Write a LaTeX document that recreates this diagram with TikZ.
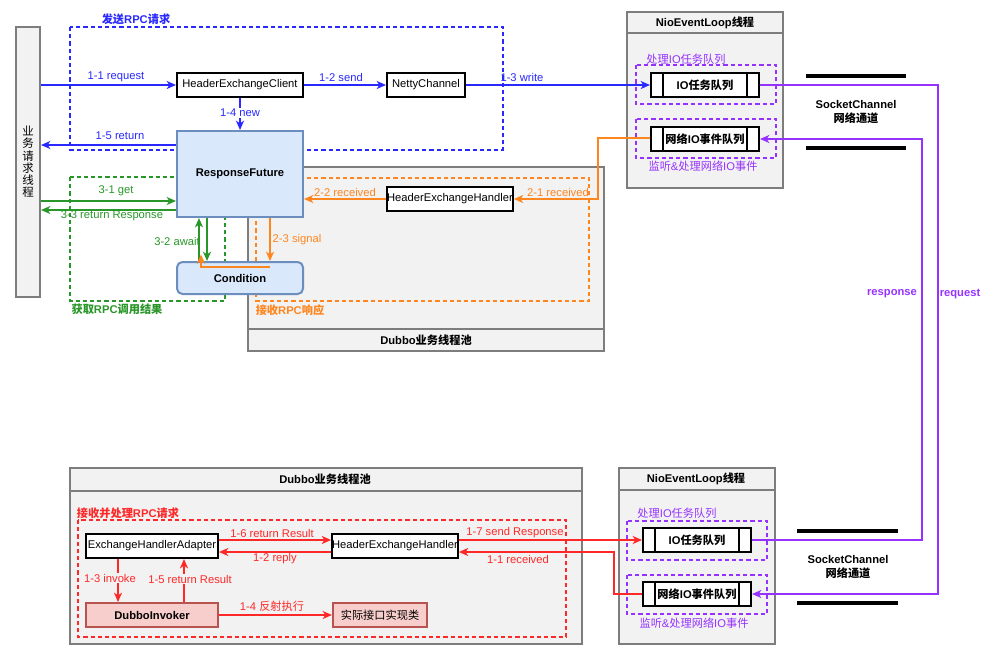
\documentclass[tikz,border=0pt]{standalone}
\usepackage{fontspec}
\setmainfont{Liberation Sans}
\newfontfamily\cjk{Noto Sans CJK SC}
\usetikzlibrary{arrows.meta,calc}
\definecolor{cblue}{RGB}{40,40,255}
\definecolor{cgreen}{RGB}{40,150,40}
\definecolor{corange}{RGB}{255,133,30}
\definecolor{cred}{RGB}{255,40,40}
\definecolor{cpurple}{RGB}{150,50,255}
\definecolor{cgrayfill}{RGB}{242,242,242}
\definecolor{cgrayline}{RGB}{125,125,125}
\definecolor{cbluefill}{RGB}{218,232,252}
\definecolor{cblueline}{RGB}{108,142,191}
\definecolor{credfill}{RGB}{248,206,204}
\definecolor{credline}{RGB}{184,84,80}
\newcommand\myfs{\fontsize{8.4}{10}\selectfont}
\begin{document}
\begin{tikzpicture}[x=0.75pt,y=-0.75pt,
  every node/.style={font=\myfs, inner sep=1pt},
  wh/.style 2 args={minimum width=#1*0.75pt, minimum height=#2*0.75pt},
  box/.style={draw=black, fill=white, line width=1.5pt, inner sep=0pt},
  bluebox/.style={draw=cblueline, fill=cbluefill, line width=1.5pt, inner sep=0pt},
  redbox/.style={draw=credline, fill=credfill, line width=1.5pt, inner sep=0pt},
  container/.style={draw=cgrayline, fill=cgrayfill, line width=1.5pt, inner sep=0pt},
  gline/.style={draw=cgrayline, line width=1.5pt},
  queue/.style={draw=black, fill=white, line width=1.5pt, inner sep=0pt, wh={108}{24},
    font=\myfs\bfseries,
    path picture={\draw[line width=1.5pt]
      ([xshift=9pt]path picture bounding box.north west) -- ([xshift=9pt]path picture bounding box.south west)
      ([xshift=-9pt]path picture bounding box.north east) -- ([xshift=-9pt]path picture bounding box.south east);}},
  con/.style={line width=1.5pt, -{Stealth[length=7pt,width=6pt,inset=2pt]}},
  dashbox/.style={line width=1.5pt, dash pattern=on 3.2pt off 2.2pt},
  blbl/.style={font=\myfs\bfseries},
  sock/.style={line width=2.6pt, black}
]
\useasboundingbox (0,0) rectangle (1000,661);

% ---------- containers ----------
\node[container, wh={356}{184}] (dub1) at (426,259) {};
\draw[gline] ([yshift=17.25pt]dub1.south west) -- ([yshift=17.25pt]dub1.south east);
\node[container, wh={156}{176}] (nio1) at (705,100) {};
\draw[gline] ([yshift=-16.5pt]nio1.north west) -- ([yshift=-16.5pt]nio1.north east);
\node[container, wh={512}{176}] (dub2) at (326,556) {};
\draw[gline] ([yshift=-18pt]dub2.north west) -- ([yshift=-18pt]dub2.north east);
\node[container, wh={156}{176}] (nio2) at (697,556) {};
\draw[gline] ([yshift=-17.25pt]nio2.north west) -- ([yshift=-17.25pt]nio2.north east);
\node[container, wh={24}{270}, font=\cjk\fontsize{8.6}{9.2}\selectfont, align=center] (thr) at (28,162) {业\\务\\请\\求\\线\\程};

% ---------- dashed groups ----------
\draw[dashbox, cblue] (70,27) rectangle (503,150);
\draw[dashbox, cgreen] (70,177) rectangle (225,301);
\draw[dashbox, corange] (256,178) rectangle (589,301);
\draw[dashbox, cpurple] (636,65) rectangle (776,104);
\draw[dashbox, cpurple] (636,119) rectangle (776,158);
\draw[dashbox, cred] (78,520) rectangle (566,637);
\draw[dashbox, cpurple] (627,521) rectangle (767,560);
\draw[dashbox, cpurple] (627,575) rectangle (767,614);

% ---------- socket channels ----------
\draw[sock] (806,76) -- (906,76);
\draw[sock] (806,148) -- (906,148);
\draw[sock] (797,531) -- (898,531);
\draw[sock] (797,603) -- (898,603);

% ---------- nodes ----------
\node[box, wh={126}{24}] (hec) at (240,85) {HeaderExchangeClient};
\node[box, wh={78}{24}] (netty) at (426,85) {NettyChannel};
\node[bluebox, wh={126}{86}, font=\myfs\bfseries] (rf) at (240,174) {ResponseFuture};
\node[bluebox, wh={126}{32}, rounded corners=4pt, font=\myfs\bfseries] (cond) at (240,278) {Condition};
\node[box, wh={124}{24}] (heh1) at (450,199) {HeaderExchangeHandler};
\node[queue] (q1t) at (705,85) {IO{\cjk 任务队列}};
\node[queue] (q2t) at (705,139) {{\cjk 网络}IO{\cjk 事件队列}};
\node[queue] (q1b) at (697,540) {IO{\cjk 任务队列}};
\node[queue] (q2b) at (697,594) {{\cjk 网络}IO{\cjk 事件队列}};
\node[box, wh={132}{24}] (eha) at (152,546) {ExchangeHandlerAdapter};
\node[box, wh={124}{24}] (heh2) at (395,546) {HeaderExchangeHandler};
\node[redbox, wh={132}{24}, font=\myfs\bfseries] (di) at (152,615) {DubboInvoker};
\node[redbox, wh={94}{24}] (impl) at (380,615) {\cjk 实际接口实现类};

% ---------- connectors: blue ----------
\draw[con, cblue] (thr.east |- hec.west) -- (hec.west);
\draw[con, cblue] (hec.east) -- (netty.west);
\draw[con, cblue] (netty.east) -- (q1t.west);
\draw[con, cblue] (hec.south) -- (rf.north);
\draw[con, cblue] ([yshift=-11.25pt]rf.north west) -- ([yshift=-11.25pt]rf.north west -| thr.east);
% green
\draw[con, cgreen] ([yshift=12.75pt]rf.south west -| thr.east) -- ([yshift=12.75pt]rf.south west);
\draw[con, cgreen] ([yshift=6pt]rf.south west) -- ([yshift=6pt]rf.south west -| thr.east);
\draw[con, cgreen] ([xshift=17.25pt]cond.north west) -- ([xshift=17.25pt]rf.south west);
\draw[con, cgreen] ([xshift=23.25pt]rf.south west) -- ([xshift=23.25pt]cond.north west);
% orange
\draw[con, corange] ([xshift=70.5pt]rf.south west) -- ([xshift=70.5pt]cond.north west);
\draw[con, corange] ([xshift=70.5pt,yshift=-4.5pt]cond.north west) -| ([xshift=18.75pt,yshift=5pt]cond.north west);
\draw[con, corange] (heh1.west) -- (heh1.west -| rf.east);
\draw[con, corange] ([yshift=0.75pt]q2t.west) -| ([xshift=63pt]heh1.east) -- (heh1.east);
% purple
\draw[con, cpurple] (q1t.east) -| ([xshift=139.5pt]q2b.east) -- (q2b.east);
\draw[con, cpurple] (q1b.east) -| ([xshift=121.5pt]q2t.east) -- (q2t.east);
% red
\draw[con, cred] ([yshift=4.5pt]eha.east) -- ([yshift=4.5pt]eha.east -| heh2.west);
\draw[con, cred] ([yshift=-4.5pt]heh2.west) -- ([yshift=-4.5pt]heh2.west -| eha.east);
\draw[con, cred] ([yshift=4.5pt]heh2.east) -- ([yshift=4.5pt]heh2.east -| q1b.west);
\draw[con, cred] (q2b.west) -| ([xshift=116.25pt,yshift=-4.5pt]heh2.east) -- ([yshift=-4.5pt]heh2.east);
\draw[con, cred] ([xshift=24.75pt]eha.south west) -- ([xshift=24.75pt]di.north west);
\draw[con, cred] ([xshift=74.25pt]di.north west) -- ([xshift=74.25pt]eha.south west);
\draw[con, cred] (di.east) -- (impl.west);

% ---------- labels ----------
\node[blbl, text=cblue] (lsend) at (136,19) {{\cjk 发送}RPC{\cjk 请求}};
\node[text=cblue] (l11) at (116,77) {1-1 request};
\node[text=cblue] (l12) at (341,77) {1-2 send};
\node[text=cblue] (l13) at (522,77) {1-3 write};
\node[text=cblue, fill=white] (l14) at (240,113) {1-4 new};
\node[text=cblue] (l15) at (120,136) {1-5 return};
\node[text=cgreen] (l31) at (116,191) {3-1 get};
\node[text=cgreen] (l33) at (112,216) {3-3 return Response};
\node[text=cgreen] (l32) at (177,241) {3-2 await};
\node[blbl, text=cgreen] (lget) at (117,309) {{\cjk 获取}RPC{\cjk 调用结果}};
\node[text=corange] (l22) at (345,192) {2-2 received};
\node[text=corange] (l21) at (558,192) {2-1 received};
\node[text=corange] (l23) at (297,240) {2-3 signal};
\node[blbl, text=corange] (lrecv) at (290,310) {{\cjk 接收}RPC{\cjk 响应}};
\node[blbl] (dub1t) at (426,340) {Dubbo{\cjk 业务线程池}};
\node[blbl] (nio1t) at (705,23) {NioEventLoop{\cjk 线程}};
\node[text=cpurple] (lio1) at (686,59) {{\cjk 处理}IO{\cjk 任务队列}};
\node[text=cpurple] (lnet1) at (703,166) {{\cjk 监听}\&{\cjk 处理网络}IO{\cjk 事件}};
\node[blbl, align=center, font=\myfs\bfseries] (sock1) at (856,112) {SocketChannel\\{\cjk 网络通道}};
\node[blbl, text=cpurple] (lresp) at (892,294) {response};
\node[blbl, text=cpurple] (lreq) at (960,294) {request};

\node[blbl] (dub2t) at (325,479) {Dubbo{\cjk 业务线程池}};
\node[blbl, text=cred] (lproc) at (128,513) {{\cjk 接收并处理}RPC{\cjk 请求}};
\node[text=cred] (b16) at (272,533) {1-6 return Result};
\node[text=cred] (b12) at (275,559) {1-2 reply};
\node[text=cred] (b17) at (515,533) {1-7 send Response};
\node[text=cred] (b11) at (518,559) {1-1 received};
\node[text=cred, fill=cgrayfill] (b13) at (110,578) {1-3 invoke};
\node[text=cred, fill=cgrayfill] (b15) at (190,579) {1-5 return Result};
\node[text=cred] (b14) at (272,606) {1-4 {\cjk 反射执行}};
\node[blbl] (nio2t) at (696,479) {NioEventLoop{\cjk 线程}};
\node[text=cpurple] (lio2) at (677,513) {{\cjk 处理}IO{\cjk 任务队列}};
\node[text=cpurple] (lnet2) at (694,623) {{\cjk 监听}\&{\cjk 处理网络}IO{\cjk 事件}};
\node[blbl, align=center, font=\myfs\bfseries] (sock2) at (848,567) {SocketChannel\\{\cjk 网络通道}};
\end{tikzpicture}
\end{document}
